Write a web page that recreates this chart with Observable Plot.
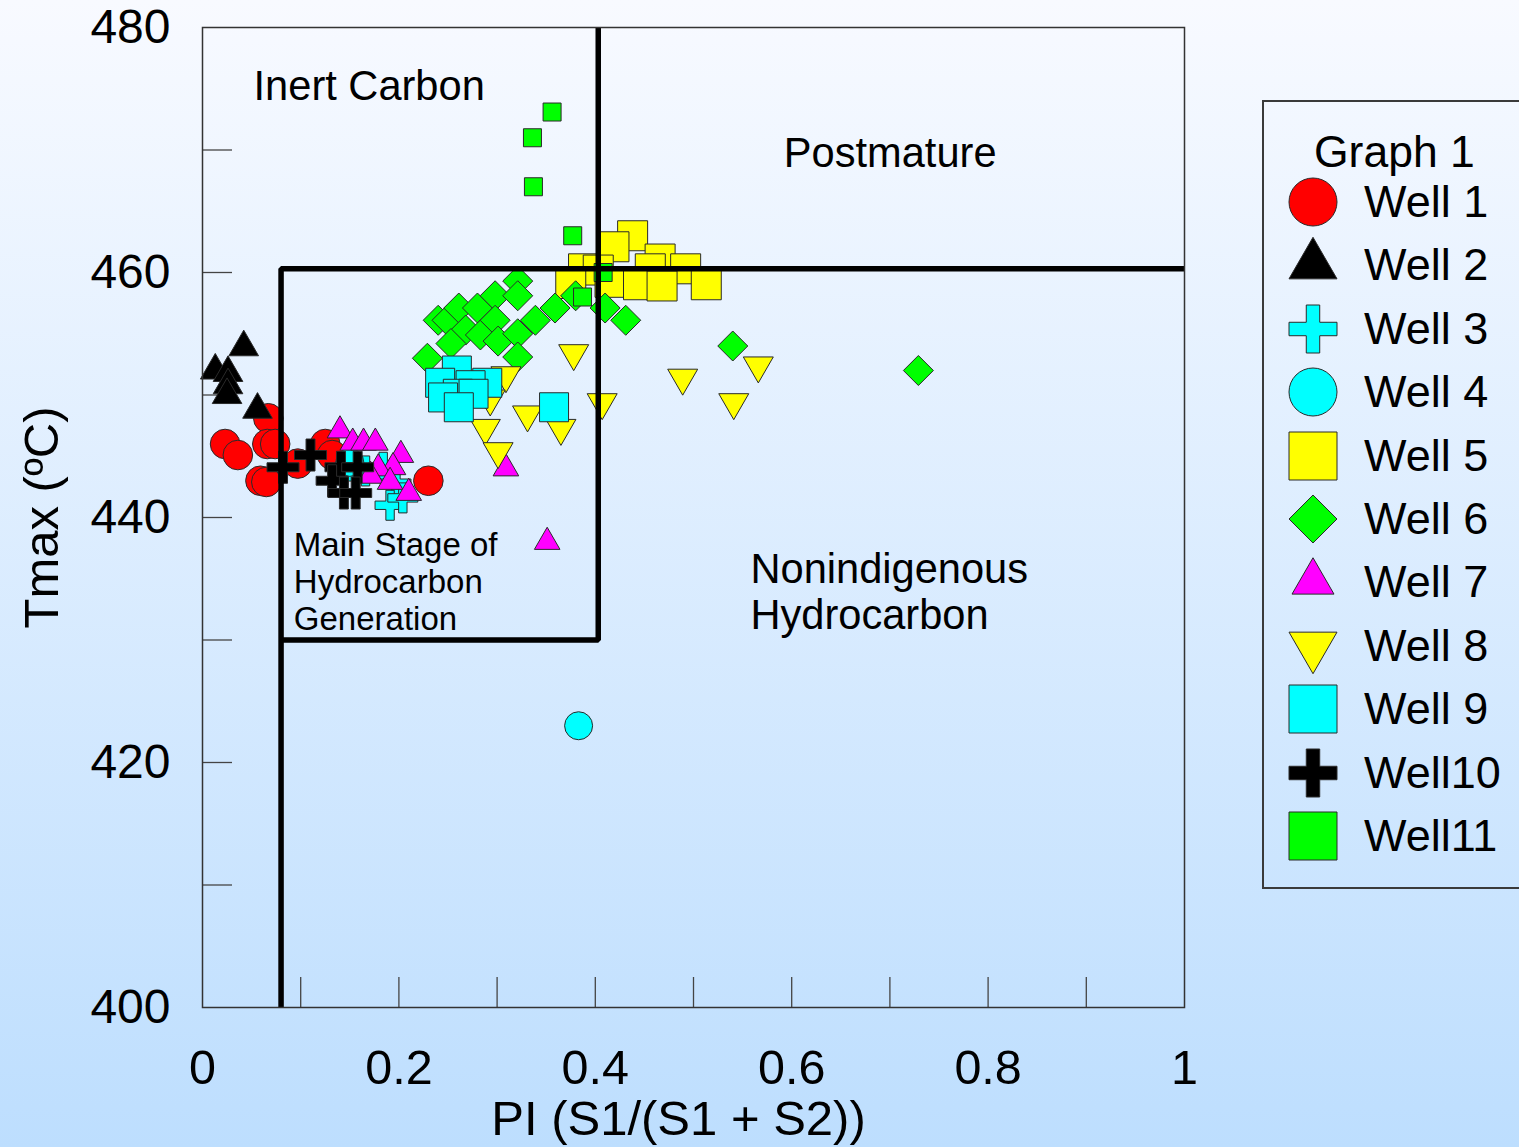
<!DOCTYPE html>
<html><head><meta charset="utf-8">
<script src="https://cdn.jsdelivr.net/npm/d3@7"></script>
<script src="https://cdn.jsdelivr.net/npm/@observablehq/plot@0.6"></script>
<style>
html,body{margin:0;padding:0;overflow:hidden;}
#wrap{position:relative;width:1519px;height:1147px;background:linear-gradient(to bottom,#f8faff 0%,#bddefe 100%);font-family:"Liberation Sans",Arial,sans-serif;overflow:hidden;}
#chart{position:absolute;left:0;top:0;}
#legend{position:absolute;left:1262px;top:100px;width:290px;height:789px;border:2px solid #3a3a3a;box-sizing:border-box;}
#legend .title{position:absolute;left:50px;top:20px;height:60px;line-height:60px;font-size:44.5px;white-space:nowrap;color:#000;}
#legend .row{position:absolute;left:0;height:60px;width:280px;}
#legend .row svg{position:absolute;left:19px;top:0;}
#legend .row span{position:absolute;left:100px;top:0;height:60px;line-height:60px;font-size:45px;white-space:nowrap;color:#000;}
</style>
</head><body>
<div id="wrap"><div id="chart"></div><div id="legend"></div></div>
<script>
// ---- data (PI, Tmax) per well ----
const well1 = [[0.023,446.0],[0.036,445.1],[0.067,448.1],[0.066,446.0],[0.074,446.0],[0.059,443.0],[0.065,442.9],[0.097,444.4],[0.125,446.0],[0.132,445.1],[0.230,443.0]];
const well2 = [[0.042,453.9],[0.013,452.0],[0.026,451.8],[0.026,450.8],[0.025,450.0],[0.056,448.8]];
const well3 = [[0.151,444.2],[0.166,443.8],[0.184,444.1],[0.197,442.8],[0.191,441.0],[0.204,441.6]];
const well4 = [[0.150,444.5],[0.383,423.0]];
const well5 = [[0.438,463.0],[0.419,462.1],[0.466,461.1],[0.388,460.3],[0.403,460.2],[0.492,460.3],[0.456,460.3],[0.375,459.1],[0.415,459.2],[0.444,459.0],[0.468,458.9],[0.513,459.0]];
const well6 = [[0.229,453.0],[0.240,456.1],[0.249,456.1],[0.261,457.1],[0.268,455.3],[0.253,454.2],[0.280,457.1],[0.283,454.9],[0.298,458.1],[0.298,456.1],[0.301,454.4],[0.321,455.0],[0.321,453.1],[0.321,459.3],[0.321,458.1],[0.339,456.1],[0.359,457.1],[0.380,458.1],[0.410,457.1],[0.431,456.1],[0.540,454.0],[0.729,452.0]];
const well7 = [[0.140,447.1],[0.153,446.1],[0.164,446.1],[0.176,446.1],[0.202,445.1],[0.194,444.1],[0.179,444.0],[0.171,443.4],[0.191,442.9],[0.210,442.0],[0.309,444.0],[0.351,438.0]];
const well8 = [[0.378,453.4],[0.489,451.4],[0.566,452.4],[0.541,449.4],[0.407,449.4],[0.331,448.4],[0.365,447.3],[0.288,447.3],[0.301,445.4],[0.309,451.6],[0.293,449.7]];
const well9 = [[0.259,452.0],[0.242,451.0],[0.290,451.0],[0.273,450.8],[0.260,450.1],[0.276,450.1],[0.245,449.8],[0.261,449.0],[0.358,449.0]];
const well10 = [[0.082,444.1],[0.110,445.1],[0.141,444.1],[0.158,444.1],[0.132,443.0],[0.144,442.0],[0.156,442.0]];
const well11 = [[0.356,473.1],[0.336,471.0],[0.337,467.0],[0.377,463.0],[0.408,460.0],[0.387,458.0]];

const wellNames = ["Well 1","Well 2","Well 3","Well 4","Well 5","Well 6","Well 7","Well 8","Well 9","Well10","Well11"];
const wellData = [well1,well2,well3,well4,well5,well6,well7,well8,well9,well10,well11];

// region boundaries (PI, Tmax)
const boundaryMain = [[0.08,400],[0.08,460.3],[1,460.3]];
const boundaryStage = [[0.08,430],[0.403,430],[0.403,480]];
const regionLabels = [
  {x:0.052, y:475.3, text:"Inert Carbon"},
  {x:0.592, y:469.8, text:"Postmature"},
  {x:0.558, y:434.0, text:"Nonindigenous\nHydrocarbon"}
];
const stageLabel = [{x:0.093, y:434.8, text:"Main Stage of\nHydrocarbon\nGeneration"}];

const xTickLabels = [0,0.2,0.4,0.6,0.8,1];
const xTicks = [0.1,0.2,0.3,0.4,0.5,0.6,0.7,0.8,0.9];
const yTickLabels = [400,420,440,460,480];
const yTicks = [410,420,430,440,450,460,470];

// ---- symbols ----
const R = s => Math.sqrt(s/Math.PI);
const sym = {
  circle: d3.symbolCircle,
  square: {draw(c,s){const r=R(s); c.moveTo(-r,-r); c.lineTo(r,-r); c.lineTo(r,r); c.lineTo(-r,r); c.closePath();}},
  triUp: {draw(c,s){const r=R(s), h=r*Math.sqrt(3); c.moveTo(0,-2*h/3); c.lineTo(r,h/3); c.lineTo(-r,h/3); c.closePath();}},
  triDown: {draw(c,s){const r=R(s), h=r*Math.sqrt(3); c.moveTo(0,2*h/3); c.lineTo(r,-h/3); c.lineTo(-r,-h/3); c.closePath();}},
  diamond: {draw(c,s){const r=R(s); c.moveTo(0,-r); c.lineTo(r,0); c.lineTo(0,r); c.lineTo(-r,0); c.closePath();}},
  cross: {draw(c,s){const r=R(s), a=r*0.28; c.moveTo(-a,-r); c.lineTo(a,-r); c.lineTo(a,-a); c.lineTo(r,-a); c.lineTo(r,a); c.lineTo(a,a); c.lineTo(a,r); c.lineTo(-a,r); c.lineTo(-a,a); c.lineTo(-r,a); c.lineTo(-r,-a); c.lineTo(-a,-a); c.closePath();}}
};
const styles = [
  {symbol:sym.circle,  fill:"#ff0000", r:14.8, lr:24},
  {symbol:sym.triUp,   fill:"#000000", r:14.8, lr:24},
  {symbol:sym.cross,   fill:"#00ffff", r:15,   lr:24},
  {symbol:sym.circle,  fill:"#00ffff", r:14,   lr:24},
  {symbol:sym.square,  fill:"#ffff00", r:15,   lr:24},
  {symbol:sym.diamond, fill:"#00ff00", r:15,   lr:24},
  {symbol:sym.triUp,   fill:"#ff00ff", r:12.8, lr:21},
  {symbol:sym.triDown, fill:"#ffff00", r:15,   lr:24},
  {symbol:sym.square,  fill:"#00ffff", r:14.5, lr:24},
  {symbol:sym.cross,   fill:"#000000", r:16,   lr:24},
  {symbol:sym.square,  fill:"#00ff00", r:9,    lr:24}
];

const dotMarks = wellData.map((data,i) => Plot.dot(data, {
  x: d => d[0], y: d => d[1], symbol: styles[i].symbol, r: styles[i].r,
  fill: styles[i].fill, stroke: "#2a2a2a", strokeWidth: 1
}));

const chart = Plot.plot({
  width: 1519, height: 1147,
  marginLeft: 202, marginRight: 335, marginTop: 27, marginBottom: 140,
  style: {background: "transparent", fontFamily: "'Liberation Sans', Arial, sans-serif", overflow: "visible"},
  x: {domain: [0,1]},
  y: {domain: [400,480]},
  marks: [
    Plot.tickX(xTicks, {x: d => d, insetTop: 950, stroke: "#444", strokeWidth: 1.3}),
    Plot.tickY(yTicks, {y: d => d, insetRight: 952, stroke: "#444", strokeWidth: 1.3}),
    ...dotMarks,
    Plot.line(boundaryMain, {x: d => d[0], y: d => d[1], stroke: "#000", strokeWidth: 5.5, strokeLinejoin: "miter", strokeLinecap: "butt"}),
    Plot.line(boundaryStage, {x: d => d[0], y: d => d[1], stroke: "#000", strokeWidth: 5.5, strokeLinejoin: "miter", strokeLinecap: "butt"}),
    Plot.frame({stroke: "#333", strokeWidth: 1.5}),
    Plot.axisX(xTickLabels, {tickSize: 0, tickPadding: 42, fontSize: 48.5, label: null, tickFormat: d => String(d)}),
    Plot.axisY(yTickLabels, {tickSize: 0, tickPadding: 32, fontSize: 48, label: null}),
    Plot.text(regionLabels, {x: "x", y: "y", text: "text", textAnchor: "start", lineAnchor: "middle", fontSize: 41.6, lineHeight: 1.12, fill: "#000"}),
    Plot.text(stageLabel, {x: "x", y: "y", text: "text", textAnchor: "start", lineAnchor: "middle", fontSize: 33, lineHeight: 1.13, fill: "#000"}),
    Plot.text(["PI (S1/(S1 + S2))"], {frameAnchor: "bottom", dx: -15, dy: 112, textAnchor: "middle", lineAnchor: "middle", fontSize: 49, fill: "#000"}),
    Plot.text(["Tmax (ºC)"], {frameAnchor: "left", dx: -160, rotate: -90, textAnchor: "middle", lineAnchor: "middle", fontSize: 49, fill: "#000"})
  ]
});
document.getElementById("chart").appendChild(chart);

// ---- legend ----
const legend = document.getElementById("legend");
const t = document.createElement("div");
t.className = "title"; t.textContent = "Graph 1";
legend.appendChild(t);
wellNames.forEach((name,i) => {
  const row = document.createElement("div");
  row.className = "row";
  row.style.top = (70 + i*63.4) + "px";
  const s = styles[i];
  const path = d3.symbol(s.symbol, Math.PI*s.lr*s.lr)();
  row.innerHTML = `<svg width="60" height="60" viewBox="-30 -30 60 60"><path d="${path}" fill="${s.fill}" stroke="#2a2a2a" stroke-width="1"/></svg><span>${name}</span>`;
  legend.appendChild(row);
});
</script>
</body></html>
